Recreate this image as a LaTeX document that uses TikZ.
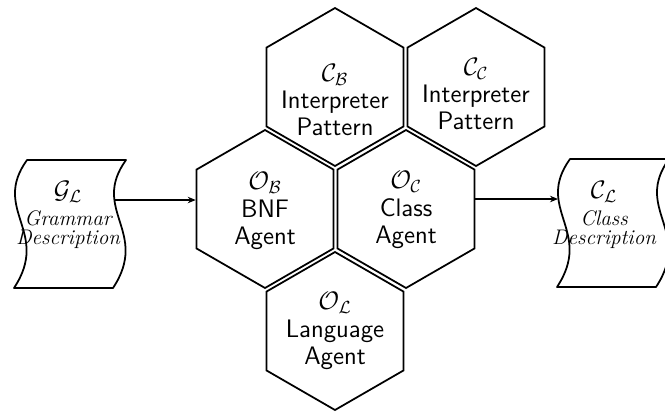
\documentclass[tikz,border=0pt]{standalone}
\usetikzlibrary{arrows.meta, shapes.geometric, positioning}

\begin{document}
\begin{tikzpicture}[
        x=0.02cm, y=-0.02cm,
        hexCell/.style={
            regular polygon,
            regular polygon sides=6,
            shape border rotate=30,
            draw=black,
            line width=1pt,
            minimum size=3.16cm,
            inner sep=0pt
        },
        hexText/.style={
            align=center,
            font=\sffamily\fontsize{14.4}{15.5}\selectfont
        },
        docShape/.style={
            draw=black,
            line width=1pt,
            line join=round
        },
        docText/.style={
            align=center,
            font=\itshape\fontsize{12}{11}\selectfont
        },
        flowArrow/.style={
            -{Stealth[length=1.6mm, width=1.3mm]},
            draw=black,
            semithick
        }
    ]

        \useasboundingbox (0,0) rectangle (665,414);

        % Honeycomb of agents and patterns
        \node[hexCell] (cb) at (335,87) {};
        \node[hexCell] (cc) at (476,87) {};
        \node[hexCell] (ob) at (265,209) {};
        \node[hexCell] (oc) at (406,209) {};
        \node[hexCell] (ol) at (335,331) {};

        \node[hexText] (cbText) at (335,100) {
            {\Large$\mathcal{C}_{\mathcal{B}}$}\\Interpreter\\Pattern
        };
        \node[hexText] (ccText) at (476,94) {
            {\Large$\mathcal{C}_{\mathcal{C}}$}\\Interpreter\\Pattern
        };
        \node[hexText] (obText) at (265,211) {
            {\Large$\mathcal{O}_{\mathcal{B}}$}\\BNF\\Agent
        };
        \node[hexText] (ocText) at (406,210) {
            {\Large$\mathcal{O}_{\mathcal{C}}$}\\Class\\Agent
        };
        \node[hexText] (olText) at (335,331) {
            {\Large$\mathcal{O}_{\mathcal{L}}$}\\Language\\Agent
        };

        % Grammar description (input)
        \draw[docShape] (27,160) -- (126,160)
            .. controls (90,210) and (150,232) .. (113,288)
            -- (14,288)
            .. controls (51,232) and (-9,210) .. (27,160)
            -- cycle;
        \coordinate (gramOut) at (114,200);
        \node[docText] (gramText) at (68,215) {
            {\Large$\mathcal{G}_{\mathcal{L}}$}\\[4pt]Grammar\\Description
        };

        % Class description (output)
        \begin{scope}[shift={(543,-1)}]
            \draw[docShape] (27,160) -- (126,160)
                .. controls (90,210) and (150,232) .. (113,288)
                -- (14,288)
                .. controls (51,232) and (-9,210) .. (27,160)
                -- cycle;
            \coordinate (classIn) at (15,200);
        \end{scope}
        \node[docText] (classText) at (604,215) {
            {\Large$\mathcal{C}_{\mathcal{L}}$}\\[4pt]Class\\Description
        };

        % Flow through the agents
        \draw[flowArrow] (gramOut) -- (gramOut -| ob.180);
        \draw[flowArrow] (classIn -| oc.0) -- (classIn);

    \end{tikzpicture}
\end{document}
